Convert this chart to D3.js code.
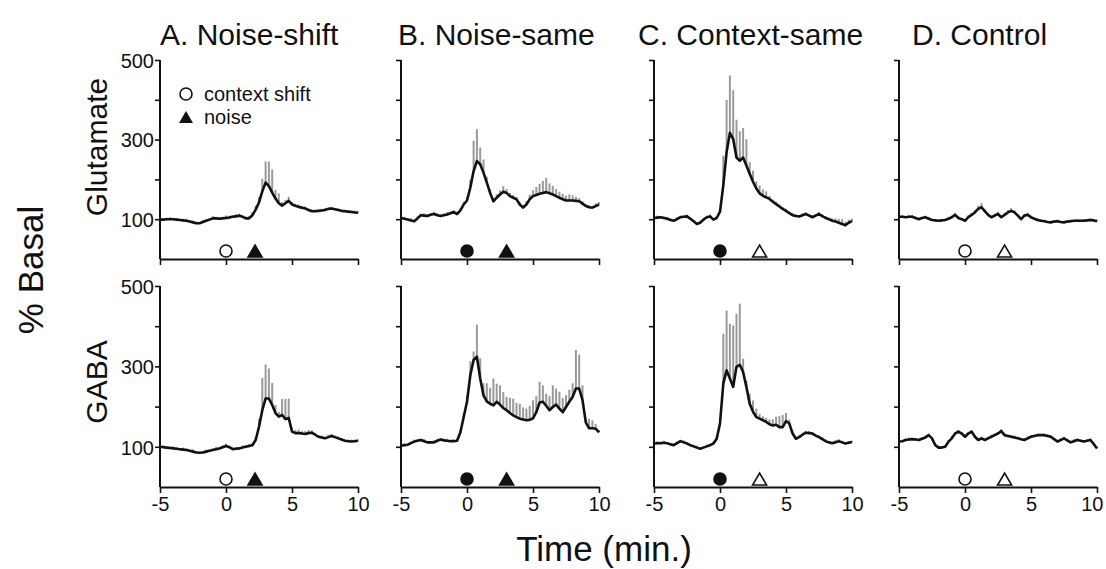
<!DOCTYPE html>
<html>
<head>
<meta charset="utf-8">
<script src="https://cdn.jsdelivr.net/npm/d3@7"></script>
<style>
html,body{margin:0;padding:0;background:#fff;}
svg{display:block;font-family:"Liberation Sans",Arial,Helvetica,sans-serif;}
</style>
</head>
<body>
<svg id="chart" width="1106" height="569"></svg>
<script>
// ---------- data ----------
const titles = ["A. Noise-shift", "B. Noise-same", "C. Context-same", "D. Control"];
const rowLabels = ["Glutamate", "GABA"];
const yTickLabels = [100, 300, 500];
const yTicks = [100, 200, 300, 400, 500];
const xTicks = [-5, 0, 5, 10];

const times = [-5,-4.75,-4.5,-4.25,-4,-3.75,-3.5,-3.25,-3,-2.75,-2.5,-2.25,-2,-1.75,-1.5,-1.25,-1,-0.75,-0.5,-0.25,
  0,0.25,0.5,0.75,1,1.25,1.5,1.75,2,2.25,2.5,2.75,3,3.25,3.5,3.75,4,4.25,4.5,4.75,
  5,5.25,5.5,5.75,6,6.25,6.5,6.75,7,7.25,7.5,7.75,8,8.25,8.5,8.75,9,9.25,9.5,9.75,10];

// Glutamate (% basal) mean and SEM
const gluA = [99,99,100,100,100,99,98,97,96,94,92,90,90,93,96,99,102,102,101,102,
  103,104,106,107,109,106,102,102,110,124,142,170,192,183,167,152,140,134,140,146,
  137,134,131,129,127,123,120,120,121,122,123,126,127,125,123,121,120,119,118,117,116];
const gluAerr = [4,3,4,5,3,4,3,4,5,3,4,4,3,5,4,3,6,4,5,4,
  6,5,4,6,5,4,5,6,8,10,14,32,53,62,58,22,25,9,8,10,
  6,5,6,4,5,4,5,4,3,4,5,3,4,3,4,3,4,3,4,5,4];

const gluB = [103,101,99,97,95,102,110,109,108,111,113,110,108,110,112,115,118,113,122,137,
  147,179,221,246,238,217,192,166,145,154,162,169,166,158,154,150,137,129,137,150,
  158,161,164,166,168,165,162,158,154,150,147,147,147,146,145,139,133,130,129,133,137];
const gluBerr = [4,5,3,6,4,5,4,6,5,4,6,5,4,5,6,4,5,6,5,7,
  8,20,76,80,42,33,15,10,8,9,10,14,10,8,7,6,5,6,8,12,
  15,20,25,30,36,25,22,18,15,14,12,15,13,10,8,6,5,6,5,7,6];

const gluC = [103,104,105,103,101,98,96,100,105,106,107,101,95,88,91,99,105,107,99,103,
  119,185,268,317,301,255,247,255,235,214,194,177,165,159,155,151,144,138,132,126,
  121,115,110,108,107,110,113,109,105,109,113,108,103,100,96,94,91,88,85,91,95];
const gluCerr = [4,5,3,4,5,4,3,5,4,3,5,4,3,4,5,3,4,5,4,5,
  10,75,132,144,123,95,74,74,66,29,28,18,20,16,15,8,5,6,5,4,
  5,4,5,4,3,5,4,3,5,4,5,4,5,4,6,8,10,12,9,8,6];

const gluD = [106,106,105,106,106,103,100,103,105,101,98,97,96,97,98,101,105,111,103,100,
  96,105,111,117,126,130,120,111,105,109,113,105,111,117,121,117,109,100,109,111,
  105,101,98,96,95,93,92,94,95,93,92,94,95,96,96,96,96,97,98,97,95];
const gluDerr = [3,4,3,4,5,3,4,3,4,5,3,4,3,4,3,5,4,5,4,3,
  4,5,4,6,8,10,6,5,4,5,6,4,5,6,7,5,4,3,4,5,
  4,3,4,3,4,3,4,3,4,3,4,3,4,3,4,3,4,3,4,3,4];

// GABA (% basal) mean and SEM
const gabaA = [100,99,98,97,96,95,94,93,92,90,88,86,85,86,88,90,92,94,96,99,
  102,99,94,95,96,98,100,102,104,117,150,191,220,220,204,184,175,179,169,172,
  138,134,134,133,132,134,135,130,125,123,121,124,127,124,121,118,115,114,113,114,115];
const gabaAerr = [4,5,3,4,5,4,3,5,4,3,5,4,3,4,5,3,4,6,4,5,
  6,4,5,4,3,5,4,5,6,8,20,80,85,75,55,20,12,40,50,48,
  10,8,9,6,7,8,6,5,4,5,4,6,5,4,5,4,3,4,5,4,3];

const gabaB = [103,104,105,109,113,115,117,114,111,111,111,115,118,116,115,114,114,115,136,174,
  212,278,316,324,270,228,213,207,203,212,205,196,191,184,178,174,170,168,166,167,
  171,186,210,212,202,191,199,205,195,186,199,212,224,245,245,216,161,146,146,145,136];
const gabaBerr = [4,5,3,4,5,4,3,5,4,3,5,4,3,4,5,3,4,5,6,10,
  15,35,21,80,50,30,45,40,67,45,48,40,33,38,42,35,37,30,29,35,
  45,40,52,41,30,35,54,40,42,35,29,30,34,96,84,37,5,24,20,12,6];

const gabaC = [108,109,109,110,109,106,104,109,114,111,108,104,101,98,95,98,101,104,108,120,
  158,257,290,270,249,299,304,286,249,207,187,174,170,166,162,156,153,155,149,149,
  164,158,133,120,124,130,135,134,133,128,124,119,114,111,109,111,114,111,108,110,112];
const gabaCerr = [6,5,4,5,3,4,5,4,3,5,4,3,4,5,3,4,5,4,5,6,
  15,124,149,136,153,132,152,33,16,25,28,21,12,10,10,12,15,20,28,30,
  20,10,6,5,4,5,4,5,4,3,4,5,4,3,4,6,5,4,3,4,3];

const gabaD = [113,114,117,118,119,118,117,120,123,129,121,104,98,98,100,113,121,133,138,133,
  125,133,138,125,117,121,117,121,125,129,133,139,129,127,125,123,121,119,117,121,
  125,127,129,129,129,127,125,119,113,117,121,116,111,114,117,115,113,115,117,107,96];
const gabaDerr = [4,3,4,5,3,4,3,4,5,4,3,4,5,4,3,4,5,4,3,4,
  5,4,3,4,5,4,3,4,5,4,3,5,4,3,4,5,4,3,4,5,
  4,3,4,3,4,5,4,3,4,3,4,3,4,5,4,3,4,3,4,3,4];

// event markers: circle = context shift (t=0), triangle = noise
const circleTimes = [0, 0, 0, 0];
const circleFilled = [false, true, true, false];
const triangleTimes = [2.2, 3, 3, 3];
const triangleFilled = [true, true, false, false];

// ---------- layout ----------
const svg = d3.select("#chart");
const colX = [160, 401, 654, 899];
const plotW = 198;
const rows = [{top: 60, bottom: 259}, {top: 286, bottom: 487}];
const means = [[gluA, gluB, gluC, gluD], [gabaA, gabaB, gabaC, gabaD]];
const errs = [[gluAerr, gluBerr, gluCerr, gluDerr], [gabaAerr, gabaBerr, gabaCerr, gabaDerr]];

const axisColor = "#111";
const tickFont = 20;

for (let r = 0; r < 2; r++) {
  for (let c = 0; c < 4; c++) {
    const x = d3.scaleLinear().domain([-5, 10]).range([colX[c], colX[c] + plotW]);
    const y = d3.scaleLinear().domain([0, 500]).range([rows[r].bottom, rows[r].top]);
    const g = svg.append("g");

    // error bars (upward SEM)
    const m = means[r][c], e = errs[r][c];
    g.append("g").selectAll("line").data(times).join("line")
      .attr("x1", (t) => x(t)).attr("x2", (t) => x(t))
      .attr("y1", (t, i) => y(m[i])).attr("y2", (t, i) => y(m[i] + e[i]))
      .attr("stroke", "#9a9a9a").attr("stroke-width", 2);

    // mean line
    const line = d3.line().x((t) => x(t)).y((t, i) => y(m[i])).curve(d3.curveLinear);
    g.append("path").datum(times).attr("d", line)
      .attr("fill", "none").attr("stroke", "#111").attr("stroke-width", 2.6)
      .attr("stroke-linejoin", "round");

    // y axis
    const ya = d3.axisLeft(y).tickValues(yTicks).tickSize(5).tickSizeOuter(0)
      .tickFormat((d) => (c === 0 && yTickLabels.includes(d)) ? d : "");
    const yg = g.append("g").attr("transform", `translate(${colX[c]},0)`).call(ya);
    yg.select(".domain").attr("d", `M0,${rows[r].bottom}V${rows[r].top}`);

    // x axis
    const xa = d3.axisBottom(x).tickValues(xTicks).tickSize(6).tickSizeOuter(0)
      .tickFormat((d) => r === 1 ? d : "");
    const xg = g.append("g").attr("transform", `translate(0,${rows[r].bottom})`).call(xa);

    [yg, xg].forEach((ag) => {
      ag.select(".domain").attr("stroke", axisColor).attr("stroke-width", 2);
      ag.selectAll(".tick line").attr("stroke", axisColor).attr("stroke-width", 1.6);
      ag.selectAll(".tick text").attr("fill", "#111").attr("font-size", tickFont)
        .attr("font-family", '"Liberation Sans",Arial,sans-serif');
    });
    yg.selectAll(".tick text").attr("x", -6).attr("dy", "0.36em");
    xg.selectAll(".tick text").attr("y", 10);
    // keep the right-most label inside the page
    if (c === 3) {
      xg.selectAll(".tick text").filter((d) => d === 10).attr("text-anchor", "end").attr("dx", 6);
    }

    // markers
    const base = rows[r].bottom;
    g.append("circle")
      .attr("cx", x(circleTimes[c])).attr("cy", base - 8).attr("r", 6)
      .attr("fill", circleFilled[c] ? "#111" : "#fff")
      .attr("stroke", "#111").attr("stroke-width", 1.6);
    const tx = x(triangleTimes[c]);
    g.append("path")
      .attr("d", `M${tx - 7},${base - 2}L${tx + 7},${base - 2}L${tx},${base - 14}Z`)
      .attr("fill", triangleFilled[c] ? "#111" : "#fff")
      .attr("stroke", "#111").attr("stroke-width", 1.6).attr("stroke-linejoin", "miter");
  }
}

// column titles
const titleX = [160, 398, 638, 912];
titles.forEach((t, i) => {
  svg.append("text").attr("x", titleX[i]).attr("y", 45)
    .attr("font-size", 30).attr("fill", "#111").text(t);
});

// row labels
const rowLabelY = [147, 382];
rowLabels.forEach((t, i) => {
  svg.append("text")
    .attr("transform", `translate(107,${rowLabelY[i]}) rotate(-90)`)
    .attr("text-anchor", "middle").attr("font-size", 30).attr("fill", "#111").text(t);
});

// axis titles
svg.append("text")
  .attr("transform", "translate(43,270) rotate(-90)")
  .attr("text-anchor", "middle").attr("font-size", 35).attr("fill", "#111").text("% Basal");
svg.append("text").attr("x", 604).attr("y", 561)
  .attr("text-anchor", "middle").attr("font-size", 35).attr("fill", "#111").text("Time (min.)");

// legend (panel A, top)
svg.append("circle").attr("cx", 186).attr("cy", 94).attr("r", 6)
  .attr("fill", "#fff").attr("stroke", "#111").attr("stroke-width", 1.6);
svg.append("path").attr("d", "M179,123L193,123L186,111Z").attr("fill", "#111");
svg.append("text").attr("x", 204).attr("y", 101).attr("font-size", 20).attr("fill", "#111").text("context shift");
svg.append("text").attr("x", 204).attr("y", 124).attr("font-size", 20).attr("fill", "#111").text("noise");
</script>
</body>
</html>
